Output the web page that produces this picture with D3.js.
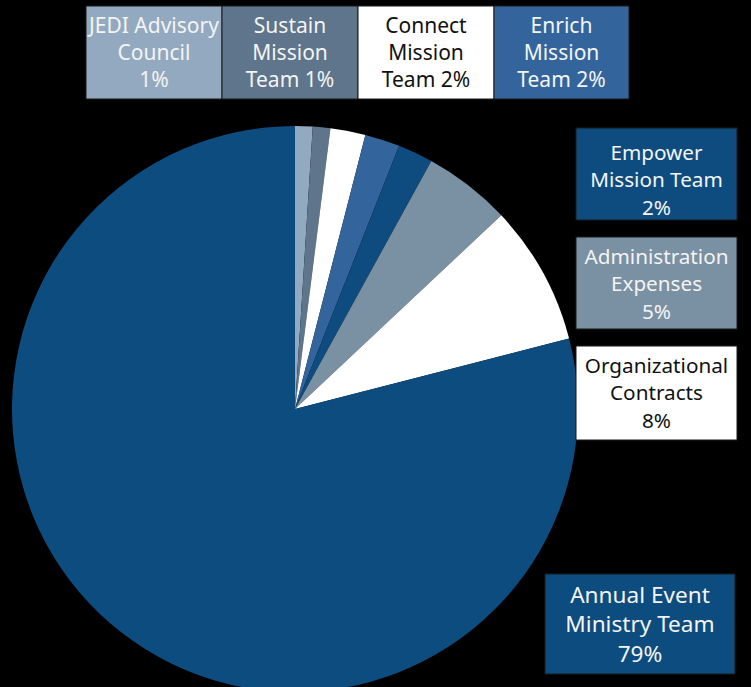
<!DOCTYPE html>
<html>
<head>
<meta charset="utf-8">
<script src="https://cdn.jsdelivr.net/npm/d3@7"></script>
<style>
  html, body { margin: 0; padding: 0; background: #000; }
  svg { display: block; }
</style>
</head>
<body>
<svg id="chart" width="751" height="687"></svg>
<script>
// ---- data ----
const categories = [
  "JEDI Advisory Council",
  "Sustain Mission Team",
  "Connect Mission Team",
  "Enrich Mission Team",
  "Empower Mission Team",
  "Administration Expenses",
  "Organizational Contracts",
  "Annual Event Ministry Team"
];
const values = [1, 1, 2, 2, 2, 5, 8, 79];
const labelLines = [
  ["JEDI Advisory", "Council", "1%"],
  ["Sustain", "Mission", "Team 1%"],
  ["Connect", "Mission", "Team 2%"],
  ["Enrich", "Mission", "Team 2%"],
  ["Empower", "Mission Team", "2%"],
  ["Administration", "Expenses", "5%"],
  ["Organizational", "Contracts", "8%"],
  ["Annual Event", "Ministry Team", "79%"]
];
// ---- styles ----
const colors = ["#93a9bf", "#5e758b", "#ffffff", "#33659c", "#0e4c7f", "#7a90a3", "#ffffff", "#0d4c7e"];
const textColors = ["#f4f4f4", "#f4f4f4", "#111111", "#f4f4f4", "#f4f4f4", "#f4f4f4", "#111111", "#f4f4f4"];

// label box layout: [x, y, w, h, fontSize, lineGap, textShift]
const boxLayout = [
  [86, 6, 136, 93, 21, 27, 0],
  [222, 6, 136, 93, 21, 27, 0],
  [358, 6, 136, 93, 21, 27, 0],
  [494, 6, 135, 93, 21, 27, 0],
  [576, 128, 161, 92, 20.7, 27.5, 6],
  [576, 237, 161, 92, 20.7, 27.5, 1],
  [576, 346, 161, 94, 20.7, 27.5, 0],
  [545, 574, 190, 100, 22.6, 29.5, 0.5]
];

const svg = d3.select("#chart");
const W = 751, H = 687;
svg.append("rect").attr("width", W).attr("height", H).attr("fill", "#000");

const cx = 295, cy = 409, R = 283;

const pie = d3.pie().sort(null).value(d => d)(values);
const arc = d3.arc().innerRadius(0).outerRadius(R);

const g = svg.append("g").attr("transform", `translate(${cx},${cy})`);
g.selectAll("path")
  .data(pie)
  .join("path")
  .attr("d", arc)
  .attr("fill", (d, i) => colors[i]);

// labels
const font = "'Noto Sans', sans-serif";
const lg = svg.append("g");
categories.forEach((c, i) => {
  const [x, y, w, h, fs, gap, shift] = boxLayout[i];
  const grp = lg.append("g");
  grp.append("rect")
    .attr("x", x).attr("y", y).attr("width", w).attr("height", h)
    .attr("fill", colors[i])
    .attr("stroke", "#1a1a1a").attr("stroke-width", 1);
  const lines = labelLines[i];
  const midY = y + h / 2 + shift;
  lines.forEach((t, k) => {
    grp.append("text")
      .attr("x", x + w / 2)
      .attr("y", midY + (k - (lines.length - 1) / 2) * gap)
      .attr("dy", "0.35em")
      .attr("text-anchor", "middle")
      .attr("font-family", font)
      .attr("font-size", fs)
      .attr("fill", textColors[i])
      .text(t);
  });
});
</script>
</body>
</html>
